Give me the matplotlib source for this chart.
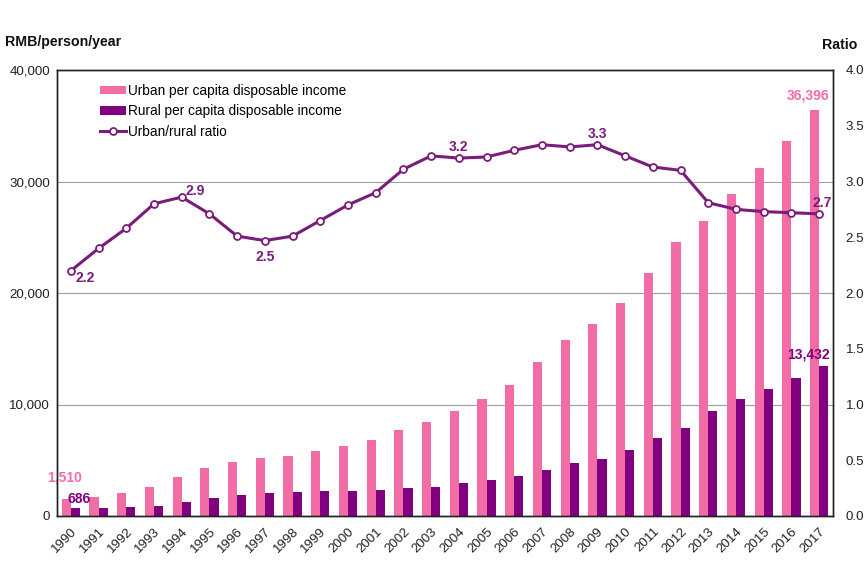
import matplotlib
matplotlib.use("Agg")
import matplotlib.pyplot as plt
import numpy as np

plt.rcParams['font.family'] = ['Liberation Sans', 'DejaVu Sans']

years = [str(y) for y in range(1990, 2018)]
urban = [1510, 1701, 2027, 2577, 3496, 4283, 4839, 5160, 5425, 5854, 6280, 6860,
         7703, 8472, 9422, 10493, 11759, 13786, 15781, 17175, 19109, 21810, 24565,
         26467, 28844, 31195, 33616, 36396]
rural = [686, 709, 784, 922, 1221, 1578, 1926, 2090, 2162, 2210, 2253, 2366, 2476,
         2622, 2936, 3255, 3587, 4140, 4761, 5153, 5919, 6977, 7917, 9430, 10489,
         11422, 12363, 13432]
ratio = [2.20, 2.40, 2.58, 2.80, 2.86, 2.71, 2.51, 2.47, 2.51, 2.65, 2.79, 2.90,
         3.11, 3.23, 3.21, 3.22, 3.28, 3.33, 3.31, 3.33, 3.23, 3.13, 3.10, 2.81,
         2.75, 2.73, 2.72, 2.71]

PINK = '#F26DA6'
PURPLE = '#800080'
LINE = '#7A1C7A'
TICK_FS = 9.6
LAB_FS = 10

fig = plt.figure(figsize=(8.65, 5.63), dpi=100)
ax = fig.add_axes([57/865, 47/563, 776/865, 446/563])
ax2 = ax.twinx()

x = np.arange(len(years))
w = 0.33
ax.bar(x - w/2, urban, w, color=PINK, label='Urban per capita disposable income', zorder=2)
ax.bar(x + w/2, rural, w, color=PURPLE, label='Rural per capita disposable income', zorder=2)
ax.set_xlim(-0.5, len(years) - 0.5)
ax.set_ylim(0, 40000)
ax.set_yticks(range(0, 40001, 10000))
ax.set_yticklabels([f'{v:,}' for v in range(0, 40001, 10000)])
ax.yaxis.grid(True, color='#A0A0A0', linewidth=0.8, zorder=0)
ax.set_axisbelow(True)
ax.set_xticks(x)
ax.set_xticklabels(years, rotation=45, ha='right', rotation_mode='anchor')
ax.tick_params(axis='both', length=0, labelsize=TICK_FS, colors='#222222', pad=5)
ax.tick_params(axis='x', pad=7)

l, = ax2.plot(x, ratio, color=LINE, linewidth=2.2, marker='o', markersize=5,
              markerfacecolor='white', markeredgecolor=LINE, markeredgewidth=1.3,
              label='Urban/rural ratio', zorder=3)
ax2.set_ylim(0, 4.0)
ax2.set_yticks(np.arange(0, 4.01, 0.5))
ax2.set_yticklabels([f'{v:.1f}' for v in np.arange(0, 4.01, 0.5)])
ax2.tick_params(axis='y', length=0, labelsize=TICK_FS, colors='#222222', pad=9)

for a in (ax, ax2):
    for s in a.spines.values():
        s.set_color('#222222')
        s.set_linewidth(1.0)

# bar value labels
ax.text(x[0] - w/2 - 0.05, urban[0] + 1300, f'{urban[0]:,}', color=PINK, fontsize=LAB_FS,
        fontweight='bold', ha='center', va='bottom')
ax.text(x[0] + w/2 + 0.12, rural[0] + 250, f'{rural[0]:,}', color=PURPLE, fontsize=LAB_FS,
        fontweight='bold', ha='center', va='bottom')
ax.text(x[-1] - 0.4, urban[-1] + 650, f'{urban[-1]:,}', color=PINK, fontsize=LAB_FS,
        fontweight='bold', ha='center', va='bottom')
ax.text(x[-1] - 0.4, rural[-1] + 380, f'{rural[-1]:,}', color=PURPLE, fontsize=LAB_FS,
        fontweight='bold', ha='center', va='bottom')

# ratio labels
lab = dict(color=LINE, fontsize=LAB_FS, fontweight='bold')
ax2.text(x[0] + 0.18, ratio[0] + 0.0, f'{ratio[0]:.1f}', ha='left', va='top', **lab)
ax2.text(x[4] + 0.15, ratio[4] - 0.01, f'{ratio[4]:.1f}', ha='left', va='bottom', **lab)
ax2.text(x[7], ratio[7] - 0.08, f'{ratio[7]:.1f}', ha='center', va='top', **lab)
ax2.text(x[14], ratio[14] + 0.04, f'{ratio[14]:.1f}', ha='center', va='bottom', **lab)
ax2.text(x[19], ratio[19] + 0.03, f'{ratio[19]:.1f}', ha='center', va='bottom', **lab)
ax2.text(x[27] - 0.25, ratio[27] + 0.03, f'{ratio[27]:.1f}', ha='left', va='bottom', **lab)

handles = ax.get_legend_handles_labels()[0] + [l]
fig.legend(handles=handles, labels=[h.get_label() for h in handles],
           loc='upper left', bbox_to_anchor=(93/865, 1 - 77/563), frameon=False,
           fontsize=9.8, handlelength=1.9, handleheight=0.55, labelspacing=0.48,
           handletextpad=0.15, borderpad=0)

fig.text(5/865, 1 - 42/563, 'RMB/person/year', fontsize=10.2, fontweight='bold',
         ha='left', va='center', color='#111111')
fig.text(822/865, 1 - 45/563, 'Ratio', fontsize=10.2, fontweight='bold',
         ha='left', va='center', color='#111111')

fig.savefig('out.png', dpi=100)
